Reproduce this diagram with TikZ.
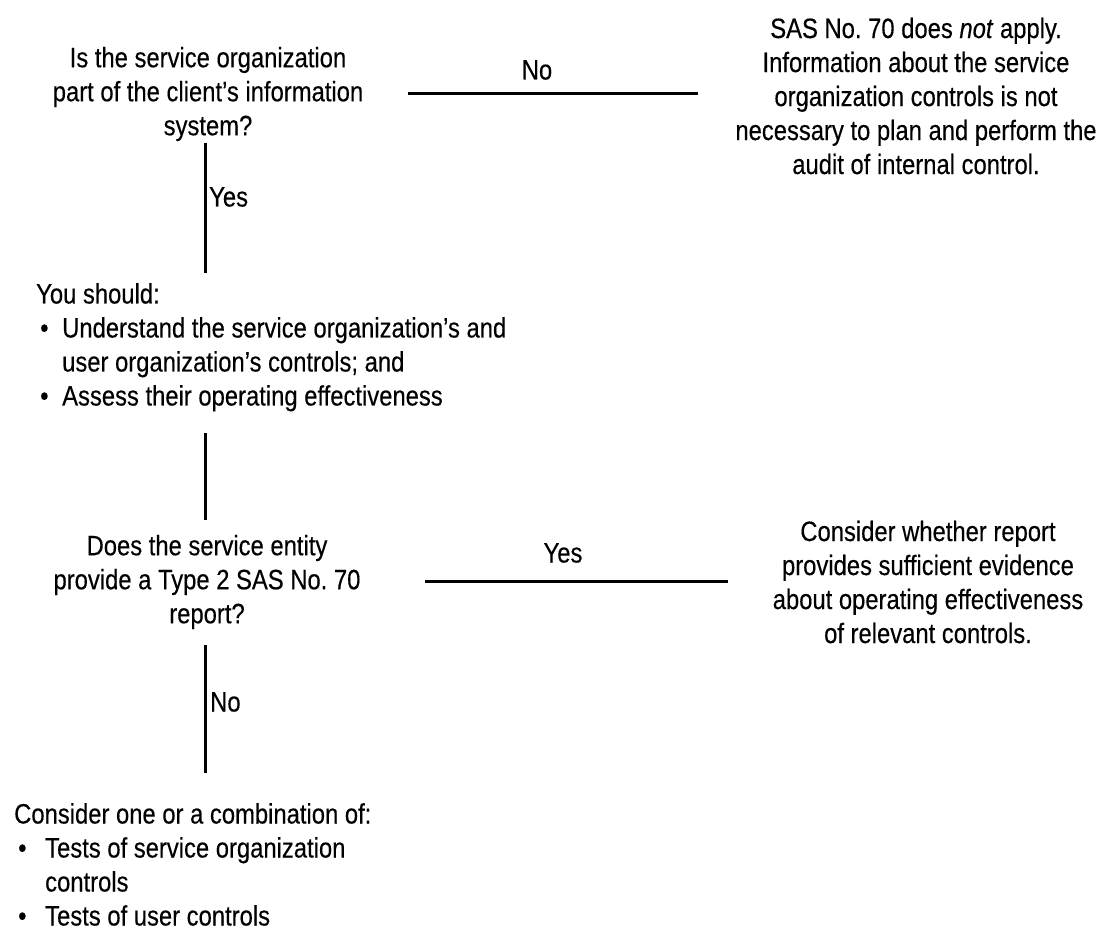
\documentclass[tikz,border=0pt]{standalone}
\usepackage{fontspec}
\setmainfont{Liberation Sans}[FakeStretch=0.85,FakeBold=0.3]
\newcommand\diagfont{\fontsize{28}{34}\selectfont\frenchspacing}
\newcommand\bul[1]{\makebox[#1][l]{\hspace{4pt}•}}
\begin{document}
\begin{tikzpicture}[x=1pt,y=-1pt,
  txt/.style={font=\diagfont, align=center, inner sep=0pt},
  lst/.style={font=\diagfont, align=left, inner sep=0pt, anchor=north west},
  lbl/.style={font=\diagfont, inner sep=0pt},
  conn/.style={line width=3pt}]
\useasboundingbox (0,0) rectangle (1102,931);
% questions and outcomes
\node[txt] (q1) at (208,94) {Is the service organization\\part of the client’s information\\system?};
\node[txt] (r1) at (916,96) {SAS No.\ 70 does \textit{not} apply.\\Information about the service\\organization controls is not\\necessary to plan and perform the\\audit of internal control.};
\node[lst] (sh) at (36,283) {You should:\\\bul{26pt}Understand the service organization’s and\\\hspace*{26pt}user organization’s controls; and\\\bul{26pt}Assess their operating effectiveness};
\node[txt] (q2) at (207,582) {Does the service entity\\provide a Type 2 SAS No.\ 70\\report?};
\node[txt] (r2) at (928,582) {Consider whether report\\provides sufficient evidence\\about operating effectiveness\\of relevant controls.};
\node[lst] (co) at (14,803) {Consider one or a combination of:\\\bul{31pt}Tests of service organization\\\hspace*{31pt}controls\\\bul{31pt}Tests of user controls};
% connector end points
\coordinate (h1a) at (408,94);  \coordinate (h1b) at (698,94);
\coordinate (h2a) at (425,581); \coordinate (h2b) at (728,581);
\coordinate (v1a) at (205,143); \coordinate (v1b) at (205,273);
\coordinate (v2a) at (205,433); \coordinate (v2b) at (205,520);
\coordinate (v3a) at (205,645); \coordinate (v3b) at (205,773);
% connectors
\draw[conn] (h1a) -- (h1b);
\draw[conn] (h2a) -- (h2b);
\draw[conn] (v1a) -- (v1b);
\draw[conn] (v2a) -- (v2b);
\draw[conn] (v3a) -- (v3b);
% labels
\node[lbl] (no1) at (537,70) {No};
\node[lbl] (yes2) at (563,553) {Yes};
\node[lbl, anchor=west] (yes1) at (209,197) {Yes};
\node[lbl, anchor=west] (no2) at (210,702) {No};
\end{tikzpicture}
\end{document}
